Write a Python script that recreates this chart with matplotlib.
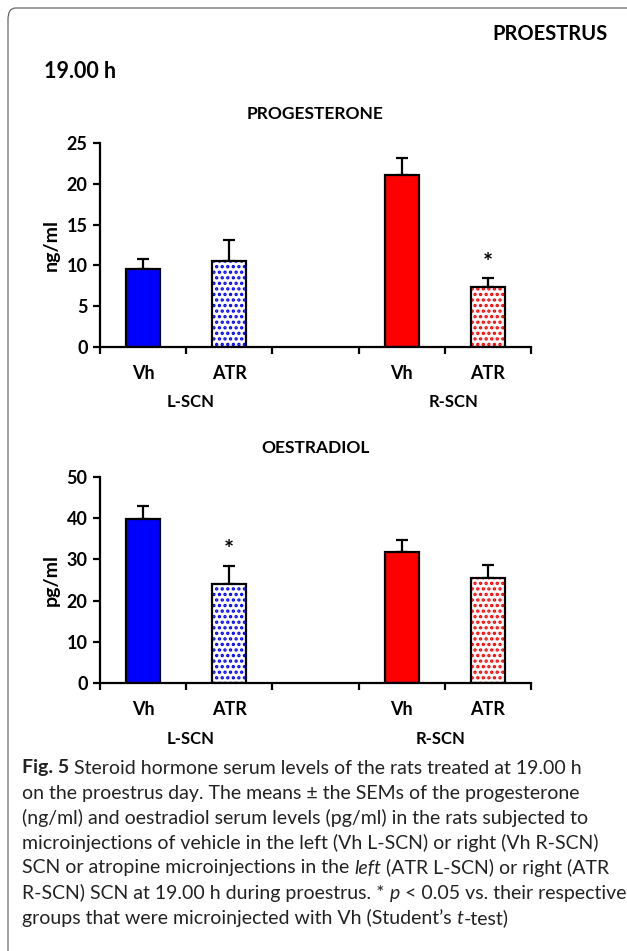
import numpy as np
import matplotlib.pyplot as plt
from matplotlib.patches import FancyBboxPatch

plt.rcParams['font.family'] = ['Lato', 'DejaVu Sans']
plt.rcParams['hatch.linewidth'] = 1.6

# data
groups = ['L-SCN', 'R-SCN']
treat_labels = ['Vh', 'ATR', '', 'Vh', 'ATR']
positions = [0.5, 1.5, 3.5, 4.5]
bar_colors = ['#0000ff', '#0000ff', '#ff0000', '#ff0000']
dotted = [False, True, False, True]

prog_mean = [9.5, 10.6, 21.1, 7.3]
prog_sem = [1.3, 2.5, 2.1, 1.2]
prog_sig = [False, False, False, True]

oest_mean = [39.9, 24.0, 31.8, 25.6]
oest_sem = [3.1, 4.5, 3.0, 3.0]
oest_sig = [False, True, False, False]

W, H = 627, 951
fig = plt.figure(figsize=(W / 100, H / 100), dpi=100)

# rounded frame (cut off at right and bottom like the source)
frame = FancyBboxPatch((8 / W, -0.05), 1.2, 1 - 8 / H + 0.05,
                       boxstyle='round,pad=0,rounding_size=0.012',
                       transform=fig.transFigure, fill=False,
                       edgecolor='#555555', linewidth=0.8)
fig.patches.append(frame)

fig.text(608 / W, 1 - 34 / H, 'PROESTRUS', ha='right', va='center',
         fontsize=14.5, fontweight='bold')
fig.text(44 / W, 1 - 72 / H, '19.00 h', ha='left', va='center',
         fontsize=15.5, fontweight='bold')


def panel(rect, title, ylabel, means, sems, sig, ymax, ystep, group_x):
    ax = fig.add_axes(rect)
    for x, m, s, c, d in zip(positions, means, sems, bar_colors, dotted):
        if d:
            ax.bar(x, m, width=0.39, color='white', edgecolor=c, hatch='...',
                   linewidth=0, zorder=2)
            ax.bar(x, m, width=0.39, fill=False, edgecolor='black',
                   linewidth=1.6, zorder=3)
        else:
            ax.bar(x, m, width=0.39, color=c, edgecolor='black',
                   linewidth=1.6, zorder=2)
        ax.errorbar(x, m, yerr=[[0], [s]], fmt='none', ecolor='black',
                    elinewidth=1.6, capsize=4, capthick=1.6, zorder=1)
    for x, m, s, g in zip(positions, means, sems, sig):
        if g:
            ax.text(x, m + s + ymax * 0.015, '*', ha='center', va='bottom',
                    fontsize=17, fontweight='bold')
    ax.set_xlim(0, 5)
    ax.set_ylim(0, ymax)
    ax.set_yticks(np.arange(0, ymax + 0.1, ystep))
    ax.set_xticks(np.arange(0, 6))
    ax.set_xticklabels([])
    ax.set_xticks(np.arange(0.5, 5, 1), minor=True)
    ax.set_xticklabels(treat_labels, minor=True)
    ax.tick_params(axis='x', which='minor', length=0, pad=13,
                   labelsize=13)
    ax.tick_params(axis='x', which='major', length=5, width=1.6,
                   direction='out')
    ax.tick_params(axis='y', length=5, width=1.6, direction='out',
                   labelsize=13, pad=4)
    for lab in ax.get_xticklabels(minor=True) + ax.get_yticklabels():
        lab.set_fontweight('bold')
    for s in ['top', 'right']:
        ax.spines[s].set_visible(False)
    for s in ['left', 'bottom']:
        ax.spines[s].set_linewidth(1.6)
    ax.set_ylabel(ylabel, fontsize=14, fontweight='bold', labelpad=5)
    ax.set_title(title, fontsize=12.5, fontweight='bold', pad=17)
    for gx, g in zip(group_x, groups):
        ax.text(gx, -0.27, g, transform=ax.get_xaxis_transform(),
                ha='center', va='center', fontsize=12, fontweight='bold')
    return ax


panel([100 / W, 1 - 347 / H, 431 / W, 204 / H], 'PROGESTERONE', 'ng/ml',
      prog_mean, prog_sem, prog_sig, 25, 5, [1.05, 4.1])
panel([100 / W, 1 - 683 / H, 431 / W, 206 / H], 'OESTRADIOL', 'pg/ml',
      oest_mean, oest_sem, oest_sig, 50, 10, [1.05, 3.95])

# caption, drawn line by line with mixed styles
caption = [
    [('Fig. 5', 'bold'), (' Steroid hormone serum levels of the rats treated at 19.00 h', 'normal')],
    [('on the proestrus day. The means \u00b1 the SEMs of the progesterone', 'normal')],
    [('(ng/ml) and oestradiol serum levels (pg/ml) in the rats subjected to', 'normal')],
    [('microinjections of vehicle in the left (Vh L-SCN) or right (Vh R-SCN)', 'normal')],
    [('SCN or atropine microinjections in the ', 'normal'), ('left', 'italic'),
     (' (ATR L-SCN) or right (ATR', 'normal')],
    [('R-SCN) SCN at 19.00 h during proestrus. * ', 'normal'), ('p', 'italic'),
     (' < 0.05 vs. their respective', 'normal')],
    [('groups that were microinjected with Vh (Student\u2019s ', 'normal'), ('t', 'italic'),
     ('-test)', 'normal')],
]
renderer = fig.canvas.get_renderer()
for i, line in enumerate(caption):
    x = 22 / W
    y = 1 - (768 + 25 * i) / H
    for txt, style in line:
        kw = dict(fontsize=14, va='center', ha='left', color='#222222')
        if style == 'bold':
            kw['fontweight'] = 'bold'
        elif style == 'italic':
            kw['fontstyle'] = 'italic'
        t = fig.text(x, y, txt, **kw)
        bb = t.get_window_extent(renderer=renderer)
        x += bb.width / W

fig.savefig('out.png', dpi=100)
